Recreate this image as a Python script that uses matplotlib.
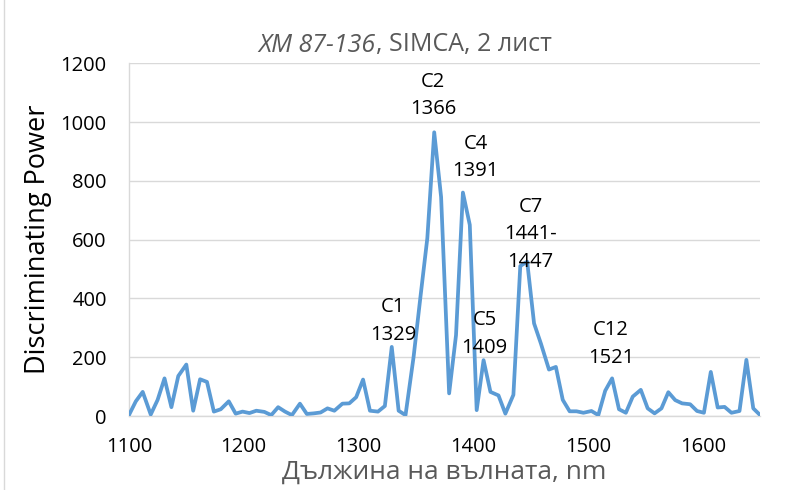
import matplotlib
matplotlib.use("Agg")
import matplotlib.pyplot as plt
from matplotlib.lines import Line2D

plt.rcParams['font.family'] = ['Open Sans', 'DejaVu Sans']

# wavelengths, nm
wavelength = [1100, 1106, 1112, 1119, 1125, 1131, 1137, 1143, 1150, 1156,
              1162, 1168, 1174, 1180, 1187, 1193, 1199, 1205, 1211, 1218,
              1224, 1230, 1236, 1242, 1249, 1255, 1261, 1267, 1273, 1279,
              1286, 1292, 1298, 1304, 1310, 1317, 1323, 1329,
              1335, 1341, 1348, 1354, 1360, 1366,
              1372, 1379, 1385, 1391,
              1397, 1403, 1409,
              1415, 1422, 1428, 1435, 1441,
              1447,
              1453, 1459, 1466, 1472, 1478, 1484, 1490, 1496, 1503, 1509,
              1515, 1521,
              1527, 1533, 1539, 1546, 1552, 1558, 1564, 1570, 1576, 1582,
              1589, 1595, 1601, 1607, 1613, 1619, 1625, 1632, 1638, 1644, 1650]

# discriminating power
power = [3, 50, 82, 5, 55, 128, 30, 136, 175, 18,
         125, 116, 15, 23, 50, 8, 15, 10, 18, 14,
         3, 30, 15, 3, 42, 7, 9, 12, 26, 18,
         42, 43, 64, 124, 18, 15, 34, 235,
         18, 3, 200, 405, 605, 965,
         745, 77, 275, 760,
         650, 20, 190,
         82, 70, 8, 72, 510,
         525,
         315, 246, 158, 167, 55, 16, 16, 11, 17, 3,
         86, 128,
         23, 11, 66, 89, 26, 9, 26, 81, 54, 43,
         40, 17, 11, 150, 29, 31, 11, 17, 191, 26, 3]

# peak labels
peak_labels = ["C2\n1366", "C4\n1391", "C7\n1441-\n1447", "C1\n1329", "C5\n1409", "C12\n1521"]
label_x = [1365, 1402, 1450, 1330, 1410, 1520]
label_y = [1091, 879, 619, 323, 279, 245]

yticks = [0, 200, 400, 600, 800, 1000, 1200]
xticks = [1100, 1200, 1300, 1400, 1500, 1600]

fig = plt.figure(figsize=(7.91, 4.90), dpi=100)
ax = fig.add_axes([0.163, 0.151, 0.798, 0.720])

ax.plot(wavelength, power, color='#5B9BD5', linewidth=2.7, solid_joinstyle='round', zorder=3)

ax.set_xlim(1100, 1650)
ax.set_ylim(0, 1200)
ax.set_yticks(yticks)
ax.set_xticks(xticks)
ax.grid(axis='y', color='#d9d9d9', linewidth=1.0)
ax.set_axisbelow(True)
for s in ['top', 'right']:
    ax.spines[s].set_visible(False)
for s in ['left', 'bottom']:
    ax.spines[s].set_color('#d9d9d9')
    ax.spines[s].set_linewidth(1.0)
ax.tick_params(axis='both', length=0, labelsize=14.5, colors='black')
ax.tick_params(axis='y', pad=16)
ax.tick_params(axis='x', pad=15)

ax.set_ylabel("Discriminating Power", fontsize=19.5, color='black', labelpad=6)
ax.set_xlabel("Дължина на вълната, nm", fontsize=19, color='#595959', labelpad=2)

for txt, x, y in zip(peak_labels, label_x, label_y):
    ax.text(x, y, txt, ha='center', va='center', fontsize=14.5, linespacing=1.5, color='black')

# title: italic part + normal part, centred at x=405 px
t1 = fig.text(0.5, 1 - 45 / 490, "ХМ 87-136", fontsize=18, style='italic', color='#595959',
              ha='left', va='center')
t2 = ax.annotate(", SIMCA, 2 лист", xy=(1, 0.5), xycoords=t1, fontsize=18, color='#595959',
                 ha='left', va='center')
fig.canvas.draw()
r = fig.canvas.get_renderer()
total = t1.get_window_extent(r).width + t2.get_window_extent(r).width
t1.set_x((405 - total / 2) / 791)

# chart border on the left
fig.add_artist(Line2D([0.005, 0.005], [0.0, 1.0], transform=fig.transFigure, color='#d9d9d9', linewidth=1))

fig.savefig("out.png", dpi=100)
